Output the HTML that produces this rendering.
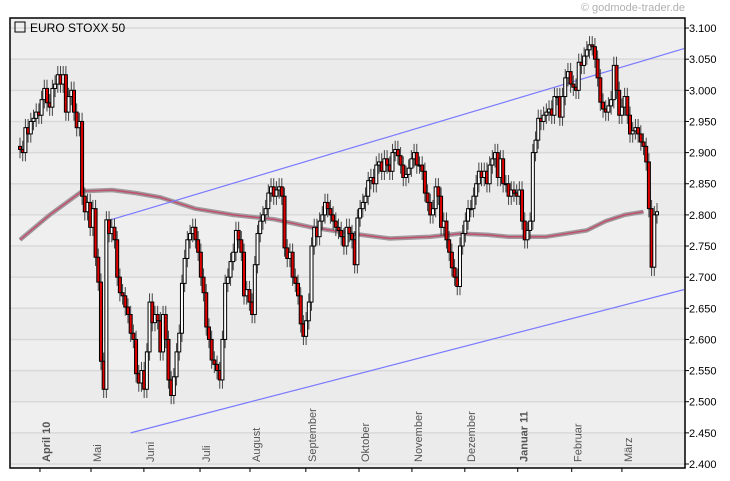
<!DOCTYPE html>
<html><head><meta charset="utf-8"><style>
html,body{margin:0;padding:0;background:#fff;}
svg{display:block;font-family:"Liberation Sans",sans-serif;}
</style></head><body>
<svg id="c" width="730" height="481" viewBox="0 0 730 481">
<text x="685" y="11" text-anchor="end" font-size="11" fill="#b0b0b0">© godmode-trader.de</text>
<g id="plot"></g>
</svg>
<script>
const closes=[2905,2900,2940,2930,2950,2955,2965,2960,2985,3003,2980,2973,3003,3010,3025,3010,3025,2965,2990,3000,2965,2940,2950,2830,2805,2820,2780,2810,2732,2692,2565,2520,
2792,2770,2780,2760,2700,2675,2670,2652,2640,2610,2600,2545,2530,2550,2520,2580,2660,2627,2640,2630,2580,2640,2600,2535,2510,2540,2580,2610,2690,2730,2760,2770,2780,2760,2740,2700,2675,2620,2600,2567,2560,2550,2535,2600,2690,2700,2725,2740,2775,2760,2740,2670,2680,2660,2640,2720,2770,2790,2800,2810,2835,2845,2830,2840,2845,2830,2747,2730,2740,2700,2690,2670,2625,2605,2630,2660,2750,2780,2765,2790,2800,2820,2810,2800,2790,2780,
2775,2765,2750,2780,2770,2760,2720,2795,2810,2820,2830,2855,2860,2850,2880,2885,2870,2890,2880,2870,2900,2905,2895,2880,2860,2865,2875,2890,2900,2880,2880,2870,2835,2820,2800,2810,2845,2830,2780,2790,2760,2740,2715,2700,2685,2750,2770,2790,2810,2810,2830,2850,2870,2860,2870,2850,2880,2890,2900,2860,2890,2850,2850,2830,2840,2835,2830,2840,2790,2760,2775,2790,2900,2920,2955,2950,2960,2965,2970,2960,2990,2990,2957,2990,3020,3030,3010,3005,3000,3045,3040,3055,3065,3073,3070,3050,3020,2981,2970,2965,2975,2985,3040,3000,2960,2973,2990,2960,2930,2935,2940,2930,2917,2910,2885,2810,2716,2800,2805];
const maDays=[0,11,23,34,43,52,65,79,94,108,123,137,152,163,173,181,195,210,217,224,231];
const maValues=[2760,2800,2838,2840,2835,2828,2810,2800,2793,2780,2770,2762,2765,2770,2768,2765,2765,2775,2790,2800,2805];
const trendUpper={d:[32,246],v:[2790,3067]};
const trendLower={d:[41,246],v:[2450,2680]};
const yTicks=[2400,2450,2500,2550,2600,2650,2700,2750,2800,2850,2900,2950,3000,3050,3100];
const monthLabels=["April 10","Mai","Juni","Juli","August","September","Oktober","November","Dezember","Januar 11","Februar","März"];
const monthDays=[7.4,26.3,45.9,66.7,85.2,105.9,125.6,145.2,164.8,184.4,204.4,223];
const boldMonths=[0,9];

const L=10,R=685,T=18,B=468,X0=20,X1=657;
const n=closes.length, step=(X1-X0)/(n-1);
const xs=d=>X0+d*step;
const ys=p=>464-(p-2400)/50*31.14;
const NS="http://www.w3.org/2000/svg";
const g=document.getElementById('plot');
function mk(t,a,p){const e=document.createElementNS(NS,t);for(const k in a)e.setAttribute(k,a[k]);(p||g).appendChild(e);return e;}

const bg=mk('rect',{x:L,y:T,width:R-L,height:B-T,fill:'#efefef'});


for(let i=0;i<yTicks.length-1;i++){
  if(i%2===0){const b=mk('rect',{x:L,y:ys(yTicks[i+1]),width:R-L,height:ys(yTicks[i])-ys(yTicks[i+1]),fill:'#ebebeb'});
  
  }
}
mk('rect',{x:L,y:T,width:R-L,height:ys(3100)-T,fill:'#efefef'});
yTicks.forEach(v=>{
  const y=ys(v);
  const gl=mk('line',{x1:L,x2:R,y1:y,y2:y,stroke:'#d9d9d9','stroke-width':1.5});
  
  
  mk('line',{x1:R,x2:R+4,y1:y,y2:y,stroke:'#000'});
  const t=mk('text',{x:R+4,y:y+4,'font-size':11,fill:'#000'});
  t.textContent=(v/1000).toFixed(3);
  
  
});
monthDays.forEach((d,i)=>{
  const x=xs(d);
  mk('line',{x1:x,x2:x,y1:B,y2:B+4,stroke:'#000'});
  const t=mk('text',{x:0,y:0,'font-size':11,fill:'#555','font-weight':boldMonths.includes(i)?'bold':'normal',transform:`translate(${x+10},462) rotate(-90)`});
  t.textContent=monthLabels[i];
  
  
});
let pts=maDays.map((d,i)=>xs(d).toFixed(1)+','+ys(maValues[i]).toFixed(1)).join(' ');
const ma1=mk('polyline',{points:pts,fill:'none',stroke:'#a09aa0','stroke-width':4.5,'stroke-linejoin':'round'});


const ma2=mk('polyline',{points:pts,fill:'none',stroke:'#c0506a','stroke-width':1.5,'stroke-linejoin':'round'});


[trendUpper,trendLower].forEach((tl,i)=>{
  const l=mk('line',{x1:xs(tl.d[0]),y1:ys(tl.v[0]),x2:xs(tl.d[1]),y2:ys(tl.v[1]),stroke:'#7a7aff','stroke-width':1.2});
  
  
});
let prev=2910;
closes.forEach((c,i)=>{
  const o=prev; prev=c;
  const x=xs(i);
  const hi=Math.max(o,c)+14, lo=Math.min(o,c)-14;
  const w=mk('line',{x1:x,x2:x,y1:ys(hi),y2:ys(lo),stroke:'#444','stroke-width':1});
  
  
  const top=ys(Math.max(o,c)),bot=ys(Math.min(o,c));
  const r=mk('rect',{x:x-1.5,y:top,width:3,height:Math.max(1,bot-top),fill:c<o?'#e00000':'#fff',stroke:'#000','stroke-width':1});
  
  
});
mk('rect',{x:L,y:T,width:R-L,height:B-T,fill:'none',stroke:'#000','stroke-width':1.5});
const lb=mk('rect',{x:15,y:22,width:10,height:10,fill:'none',stroke:'#000'});


const tt=mk('text',{x:30,y:32,'font-size':12,fill:'#000'});
tt.textContent='EURO STOXX 50';


</script>
</body></html>
